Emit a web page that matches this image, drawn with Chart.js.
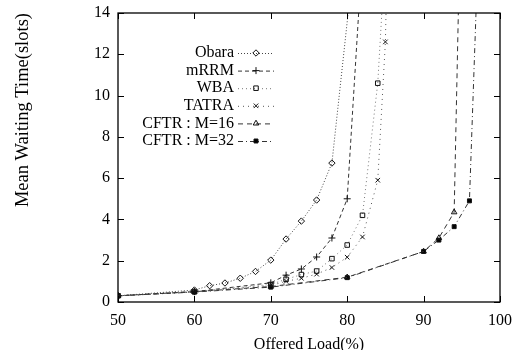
<!DOCTYPE html>
<html>
<head>
<meta charset="utf-8">
<script src="https://cdn.jsdelivr.net/npm/chart.js@4/dist/chart.umd.min.js"></script>
<style>
  html, body { margin: 0; padding: 0; background: #fff; }
  #wrap { width: 526px; height: 350px; position: relative; }
</style>
</head>
<body>
<div id="wrap"><canvas id="c" width="526" height="350"></canvas></div>
<script>
// ---- data ----
const xTickValues = [50, 60, 70, 80, 90, 100];
const yTickValues = [0, 2, 4, 6, 8, 10, 12, 14];
const xTitle = 'Offered Load(%)';
const yTitle = 'Mean Waiting Time(slots)';

const seriesNames = ['Obara', 'mRRM', 'WBA', 'TATRA', 'CFTR : M=16', 'CFTR : M=32'];

const obaraX = [50, 60, 62, 64, 66, 68, 70, 72, 74, 76, 78, 81];
const obaraY = [0.3, 0.58, 0.79, 0.92, 1.15, 1.48, 2.03, 3.05, 3.92, 4.94, 6.73, 17];

const mrrmX = [50, 60, 70, 72, 74, 76, 78, 80, 82];
const mrrmY = [0.3, 0.5, 0.93, 1.3, 1.6, 2.18, 3.1, 5.0, 17];

const wbaX = [50, 60, 70, 72, 74, 76, 78, 80, 82, 84, 85];
const wbaY = [0.3, 0.5, 0.85, 1.1, 1.33, 1.5, 2.1, 2.76, 4.2, 10.6, 17];

const tatraX = [50, 60, 70, 72, 74, 76, 78, 80, 82, 84, 85, 86];
const tatraY = [0.3, 0.5, 0.8, 1.0, 1.15, 1.35, 1.67, 2.17, 3.15, 5.9, 12.6, 30];

const cftr16X = [50, 60, 70, 80, 90, 92, 94, 95];
const cftr16Y = [0.3, 0.5, 0.75, 1.2, 2.45, 3.1, 4.35, 22];

const cftr32X = [50, 60, 70, 80, 90, 92, 94, 96, 97];
const cftr32Y = [0.3, 0.48, 0.72, 1.18, 2.45, 3.0, 3.65, 4.9, 15.5];

// ---- build datasets ----
function pts(xs, ys) { return xs.map((x, i) => ({ x: x, y: ys[i] })); }

const styles = [
  { dash: [1, 2],       pointStyle: 'rectRot',  radius: 3.2, fill: 'rgba(255,255,255,0)', line: '#444' },
  { dash: [4, 3],       pointStyle: 'cross',    radius: 3.5, fill: 'rgba(255,255,255,0)', line: '#333' },
  { dash: [1, 3],       pointStyle: 'rect',     radius: 3.2, fill: 'rgba(255,255,255,0)', line: '#777' },
  { dash: [1, 4],       pointStyle: 'crossRot', radius: 3.2, fill: 'rgba(255,255,255,0)', line: '#555' },
  { dash: [5, 4],       pointStyle: 'triangle', radius: 3.2, fill: 'rgba(255,255,255,0)', line: '#333' },
  { dash: [5, 3, 1, 3], pointStyle: 'rect',     radius: 2.8, fill: '#000',                line: '#333' }
];

const allX = [obaraX, mrrmX, wbaX, tatraX, cftr16X, cftr32X];
const allY = [obaraY, mrrmY, wbaY, tatraY, cftr16Y, cftr32Y];

const datasets = seriesNames.map((name, i) => ({
  label: name,
  data: pts(allX[i], allY[i]),
  borderColor: styles[i].line,
  borderWidth: 1,
  borderDash: styles[i].dash,
  pointStyle: styles[i].pointStyle,
  pointRadius: styles[i].radius,
  pointBorderColor: '#111',
  pointBackgroundColor: styles[i].fill,
  pointBorderWidth: 1,
  pointHoverRadius: styles[i].radius,
  fill: false,
  tension: 0
}));

// ---- plugins: frame, inward ticks, gnuplot-style key ----
const framePlugin = {
  id: 'frame',
  afterDatasetsDraw(chart) {
    const { ctx, chartArea: a, scales } = chart;
    ctx.save();
    ctx.strokeStyle = '#000';
    ctx.lineWidth = 1.3;
    ctx.setLineDash([]);
    ctx.strokeRect(a.left, a.top, a.right - a.left, a.bottom - a.top);
    const tl = 6;
    ctx.lineWidth = 1;
    ctx.beginPath();
    scales.x.ticks.forEach(t => {
      const px = Math.round(scales.x.getPixelForValue(t.value)) + 0.5;
      ctx.moveTo(px, a.bottom); ctx.lineTo(px, a.bottom - tl);
      ctx.moveTo(px, a.top); ctx.lineTo(px, a.top + tl);
    });
    scales.y.ticks.forEach(t => {
      const py = Math.round(scales.y.getPixelForValue(t.value)) + 0.5;
      ctx.moveTo(a.left, py); ctx.lineTo(a.left + tl, py);
      ctx.moveTo(a.right, py); ctx.lineTo(a.right - tl, py);
    });
    ctx.stroke();

    // key
    const textRight = a.left + 116;
    const y0 = a.top + 40;
    const step = 17.6;
    ctx.font = '16px "Liberation Serif"';
    ctx.textAlign = 'right';
    ctx.textBaseline = 'middle';
    chart.data.datasets.forEach((ds, i) => {
      const y = y0 + i * step;
      ctx.fillStyle = '#000';
      ctx.fillText(ds.label, textRight, y);
      const x1 = textRight + 4, x2 = textRight + 40;
      ctx.save();
      ctx.strokeStyle = ds.borderColor;
      ctx.lineWidth = 1;
      ctx.setLineDash(ds.borderDash);
      ctx.beginPath();
      ctx.moveTo(x1, y + 0.5); ctx.lineTo(x2, y + 0.5);
      ctx.stroke();
      ctx.restore();
      ctx.save();
      ctx.strokeStyle = ds.pointBorderColor;
      ctx.fillStyle = ds.pointBackgroundColor;
      ctx.lineWidth = 1;
      Chart.helpers.drawPoint(ctx, { pointStyle: ds.pointStyle, radius: ds.pointRadius, borderWidth: 1, rotation: 0 }, (x1 + x2) / 2, y);
      ctx.restore();
    });
    ctx.restore();
  }
};

const serif = 'Liberation Serif';

new Chart(document.getElementById('c'), {
  type: 'line',
  data: { datasets: datasets },
  options: {
    responsive: false,
    animation: false,
    devicePixelRatio: 1,
    layout: { padding: { left: 0, right: 26, top: 13, bottom: 0 } },
    plugins: {
      legend: { display: false },
      tooltip: { enabled: false }
    },
    scales: {
      x: {
        type: 'linear',
        min: xTickValues[0],
        max: xTickValues[xTickValues.length - 1],
        afterBuildTicks: s => { s.ticks = xTickValues.map(v => ({ value: v })); },
        afterFit: s => { s.height = 48; s.paddingLeft = 0; s.paddingRight = 0; },
        grid: { display: false, drawTicks: false },
        border: { display: false },
        ticks: { color: '#000', font: { family: serif, size: 16 }, padding: 9, maxRotation: 0, autoSkip: false },
        title: { display: true, text: xTitle, color: '#000', font: { family: serif, size: 16, lineHeight: 0.7 }, padding: { top: 0, bottom: 0 } }
      },
      y: {
        type: 'linear',
        min: yTickValues[0],
        max: yTickValues[yTickValues.length - 1],
        afterBuildTicks: s => { s.ticks = yTickValues.map(v => ({ value: v })); },
        afterFit: s => { s.width = 118; s.paddingTop = 0; s.paddingBottom = 0; },
        grid: { display: false, drawTicks: false },
        border: { display: false },
        ticks: { color: '#000', font: { family: serif, size: 16 }, padding: 8, autoSkip: false },
        title: { display: true, text: yTitle, align: 'end', color: '#000', font: { family: serif, size: 18.5, lineHeight: 1.2 }, padding: { top: 12, bottom: 0 } }
      }
    }
  },
  plugins: [framePlugin]
});
</script>
</body>
</html>
